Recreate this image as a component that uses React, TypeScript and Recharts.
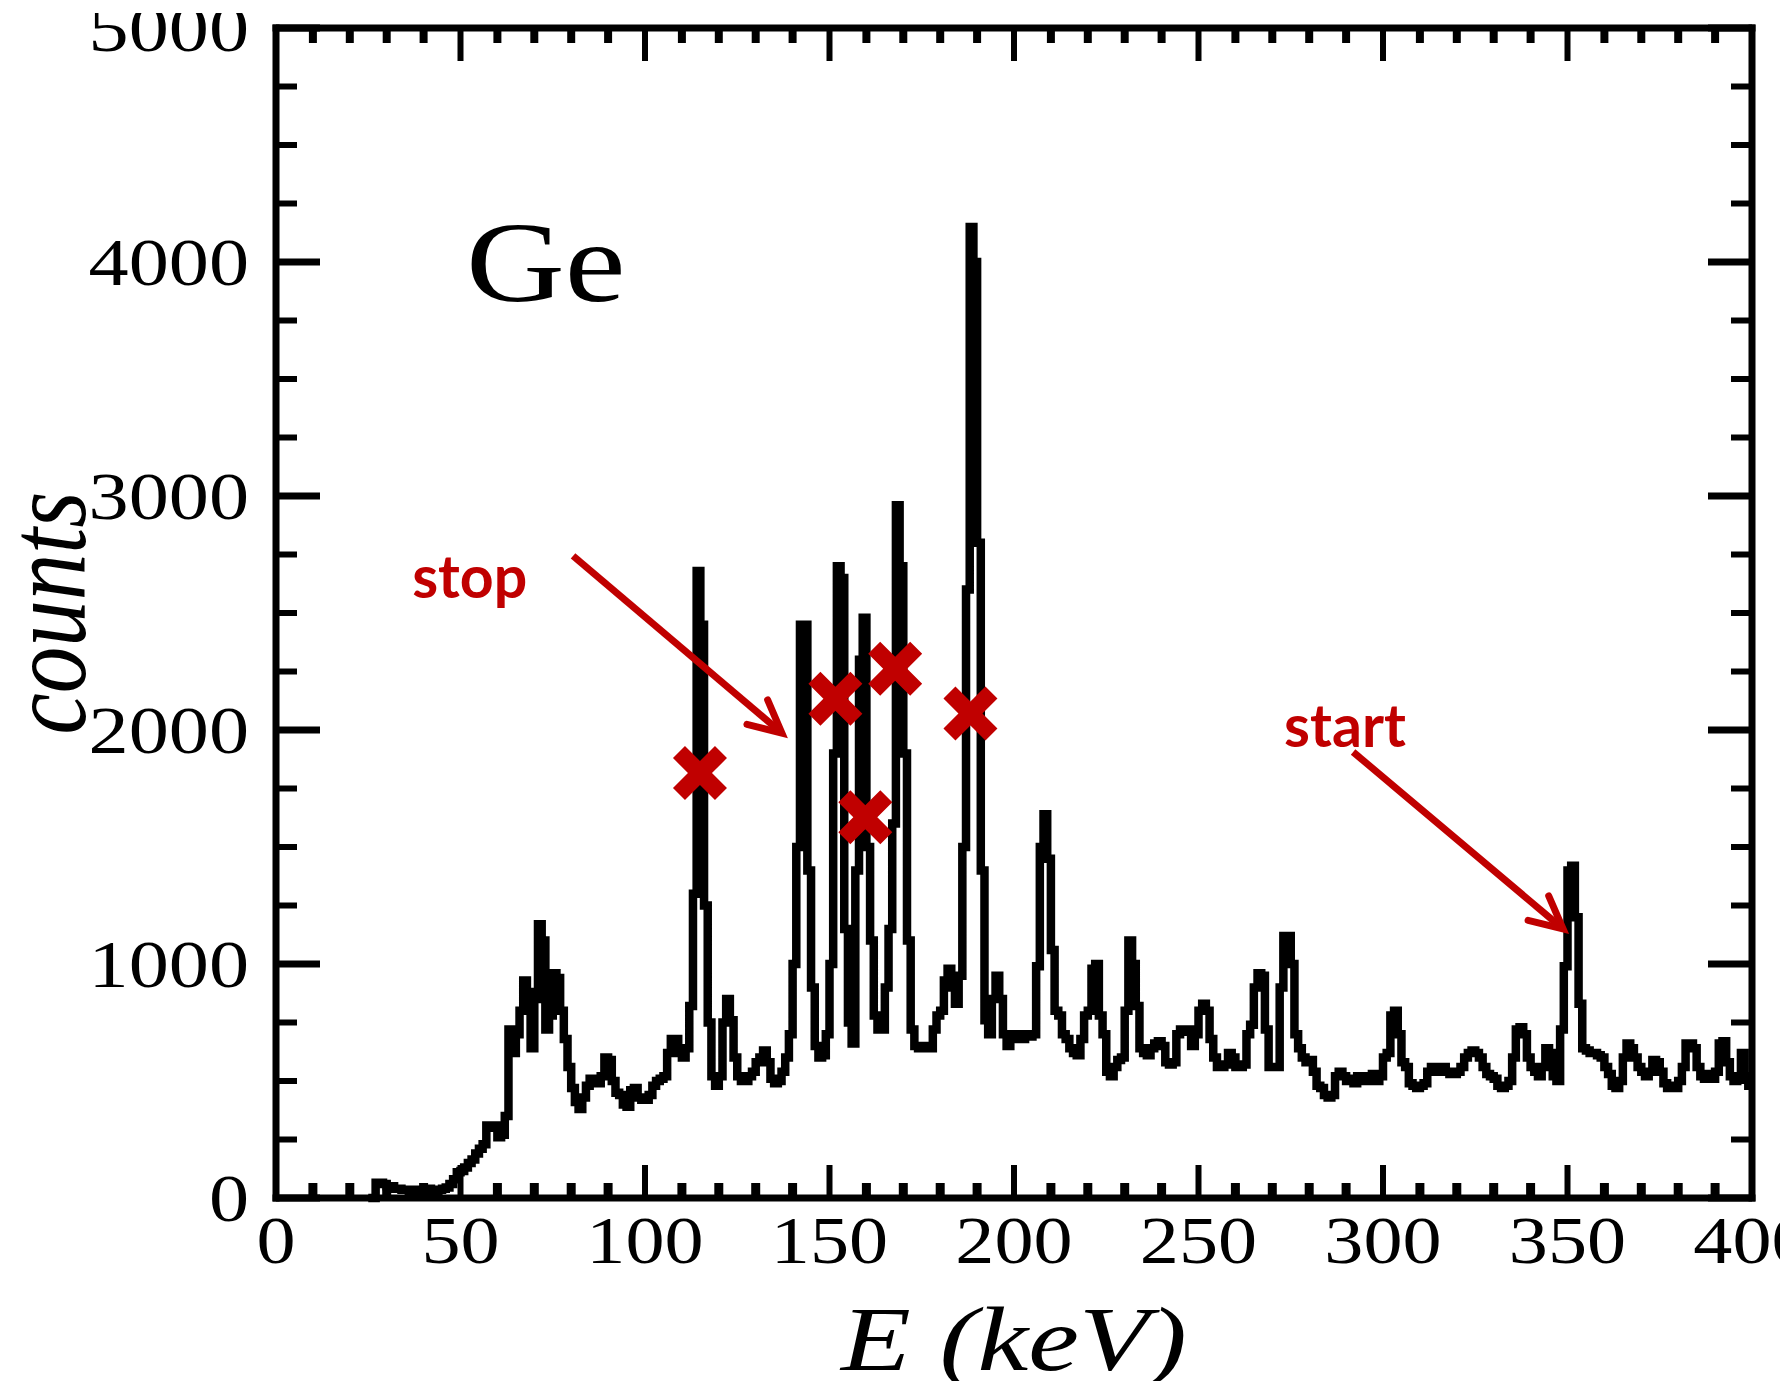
import React from 'react';
import {
  ComposedChart,
  Line,
  Scatter,
  XAxis,
  YAxis,
  ReferenceLine,
  ReferenceDot,
} from 'recharts';

// Ge gamma spectrum, 1 keV bins, counts
const BIN_KEV = 1;

const counts25to49 = [
  0, 0, 65, 65, 60, 50, 50, 40, 40, 35, 35, 30, 30, 35, 30, 35, 40, 30, 30, 35, 40, 45, 60, 80, 110,
];
const counts50to99 = [
  115, 130, 150, 165, 190, 210, 230, 310, 300, 310,
  260, 270, 350, 720, 620, 700, 800, 930, 880, 640,
  850, 1170, 1100, 720, 780, 960, 940, 800, 680, 560,
  470, 410, 380, 430, 480, 510, 500, 490, 520, 600,
  590, 500, 450, 440, 400, 390, 460, 470, 430, 420,
];
const counts100to149 = [
  420, 440, 480, 500, 510, 520, 620, 680, 680, 620,
  600, 640, 820, 1300, 2680, 2450, 1250, 750, 520, 480,
  520, 750, 850, 760, 600, 520, 500, 500, 520, 540,
  580, 600, 630, 580, 510, 490, 500, 540, 600, 700,
  1000, 1500, 2450, 2450, 1400, 900, 650, 600, 610, 700,
];
const counts150to199 = [
  1000, 1900, 2700, 2650, 1150, 750, 660, 1400, 2300, 2480,
  1500, 1100, 780, 720, 720, 900, 1150, 1600, 2960, 2700,
  1900, 1100, 720, 650, 640, 640, 650, 640, 720, 780,
  800, 930, 980, 900, 830, 950, 1500, 2600, 4150, 4000,
  2800, 1400, 760, 700, 850, 950, 850, 700, 650, 680,
];
const counts200to249 = [
  700, 690, 680, 700, 690, 700, 990, 1500, 1640, 1450,
  1060, 800, 780, 700, 680, 640, 620, 610, 680, 780,
  800, 980, 1000, 780, 700, 540, 520, 560, 590, 600,
  800, 1100, 1000, 820, 640, 620, 610, 640, 660, 670,
  650, 580, 570, 580, 700, 720, 710, 720, 650, 700,
];
const counts250to299 = [
  800, 830, 800, 680, 600, 560, 560, 570, 620, 600,
  560, 560, 570, 700, 740, 900, 960, 950, 720, 560,
  560, 560, 900, 1120, 1120, 1000, 700, 640, 600, 580,
  590, 540, 480, 470, 440, 430, 440, 520, 540, 520,
  500, 510, 490, 520, 520, 500, 510, 530, 500, 520,
];
const counts300to349 = [
  600, 620, 780, 800, 700, 580, 560, 490, 480, 470,
  480, 490, 540, 560, 540, 550, 560, 540, 530, 530,
  540, 560, 600, 620, 630, 620, 600, 560, 530, 520,
  510, 480, 470, 480, 500, 600, 720, 730, 700, 600,
  560, 540, 520, 560, 640, 620, 520, 500, 720, 990,
];
const counts350to399 = [
  1400, 1420, 1200, 830, 640, 630, 620, 620, 610, 600,
  560, 530, 480, 470, 500, 600, 660, 640, 600, 560,
  540, 520, 540, 590, 580, 540, 490, 470, 480, 470,
  500, 560, 660, 660, 640, 560, 520, 510, 530, 510,
  540, 660, 670, 580, 520, 500, 510, 620, 520, 480,
];

const segments = [
  { start: 25, counts: counts25to49 },
  { start: 50, counts: counts50to99 },
  { start: 100, counts: counts100to149 },
  { start: 150, counts: counts150to199 },
  { start: 200, counts: counts200to249 },
  { start: 250, counts: counts250to299 },
  { start: 300, counts: counts300to349 },
  { start: 350, counts: counts350to399 },
];

const spectrum = segments.flatMap((seg) =>
  seg.counts.map((c, i) => ({ E: seg.start + i * BIN_KEV, counts: c }))
);
// close the last bin
spectrum.push({ E: 400, counts: counts350to399[counts350to399.length - 1] });

// red crosses on the cascade peaks
const crossE = [114.9, 151.6, 159.7, 167.8, 188.2];
const crossCounts = [1816, 2134, 1627, 2262, 2071];
const crosses = crossE.map((E, i) => ({ E, counts: crossCounts[i] }));

// axis ticks
const xTicks = [
  0, 10, 20, 30, 40, 50, 60, 70, 80, 90, 100, 110, 120, 130, 140, 150, 160, 170, 180, 190, 200,
  210, 220, 230, 240, 250, 260, 270, 280, 290, 300, 310, 320, 330, 340, 350, 360, 370, 380, 390, 400,
];
const yTicks = [
  0, 250, 500, 750, 1000, 1250, 1500, 1750, 2000, 2250, 2500, 2750, 3000, 3250, 3500, 3750, 4000,
  4250, 4500, 4750, 5000,
];

// annotation anchors (data units)
const stopArrow = [{ x: 80.5, y: 2744 }, { x: 137.1, y: 1987 }];
const startArrow = [{ x: 291.9, y: 1906 }, { x: 348.8, y: 1150 }];
const geLabel = { x: 51.5, y: 3833 };
const stopLabel = { x: 36.9, y: 2564 };
const startLabel = { x: 273.2, y: 1927 };

const SERIF = '"Liberation Serif", "DejaVu Serif", serif';
const RED = '#C00000';
const AXIS_LINE = { stroke: '#000', strokeWidth: 7, strokeLinecap: 'square' as const };

const BottomTick = (props: any) => {
  const { x, y, payload } = props;
  const v = payload.value;
  const major = v % 50 === 0;
  return (
    <g>
      <line x1={x} x2={x} y1={y} y2={y - (major ? 33 : 15)} stroke="#000" strokeWidth={major ? 6 : 9} />
      {major && (
        <text
          transform={`translate(${x},${y + 65}) scale(1.15,1)`}
          textAnchor="middle"
          fontFamily={SERIF}
          fontSize={68}
          fill="#000"
        >
          {v}
        </text>
      )}
    </g>
  );
};

const TopTick = (props: any) => {
  const { x, y, payload } = props;
  const major = payload.value % 50 === 0;
  return <line x1={x} x2={x} y1={y} y2={y + (major ? 33 : 15)} stroke="#000" strokeWidth={major ? 6 : 8} />;
};

const LeftTick = (props: any) => {
  const { x, y, payload } = props;
  const v = payload.value;
  const major = v % 1000 === 0;
  // the top label is cropped in the original figure
  const cropped = v === 5000;
  return (
    <g>
      {cropped && (
        <defs>
          <clipPath id="top-label-crop">
            <rect x={0} y={13} width={x} height={80} />
          </clipPath>
        </defs>
      )}
      <line x1={x} x2={x + (major ? 44 : 21)} y1={y} y2={y} stroke="#000" strokeWidth={major ? 7 : 6} />
      {major && (
        <g clipPath={cropped ? 'url(#top-label-crop)' : undefined}>
          <text
            transform={`translate(${x - 27},${y + 23}) scale(1.18,1)`}
            textAnchor="end"
            fontFamily={SERIF}
            fontSize={68}
            fill="#000"
          >
            {v}
          </text>
        </g>
      )}
    </g>
  );
};

const RightTick = (props: any) => {
  const { x, y, payload } = props;
  const major = payload.value % 1000 === 0;
  return <line x1={x} x2={x - (major ? 44 : 21)} y1={y} y2={y} stroke="#000" strokeWidth={major ? 7 : 6} />;
};

const renderXLabel = (props: any) => {
  const vb = props.viewBox;
  return (
    <text
      transform={`translate(${vb.x + vb.width / 2},${vb.y + 172}) scale(1.27,1)`}
      textAnchor="middle"
      fontFamily={SERIF}
      fontStyle="italic"
      fontSize={90}
      fill="#000"
    >
      E (keV)
    </text>
  );
};

const renderYLabel = (props: any) => {
  const vb = props.viewBox;
  return (
    <text
      transform={`translate(${vb.x + 85},${vb.y + vb.height / 2}) scale(1.2,1) rotate(-90)`}
      textAnchor="middle"
      fontFamily={SERIF}
      fontStyle="italic"
      fontSize={93}
      fill="#000"
    >
      counts
    </text>
  );
};

const CrossShape = (props: any) => {
  const { cx, cy } = props;
  const s = 27;
  const a = 12;
  const pts = [
    [-s, -s + a], [-s + a, -s], [0, -a], [s - a, -s], [s, -s + a], [a, 0],
    [s, s - a], [s - a, s], [0, a], [-s + a, s], [-s, s - a], [-a, 0],
  ];
  return <polygon points={pts.map(([dx, dy]) => `${cx + dx},${cy + dy}`).join(' ')} fill={RED} />;
};

const ArrowShape = (props: any) => {
  const { x1, y1, x2, y2 } = props;
  const ang = Math.atan2(y2 - y1, x2 - x1);
  const len = 36;
  const spread = 0.46;
  const ax = x2 - len * Math.cos(ang - spread);
  const ay = y2 - len * Math.sin(ang - spread);
  const bx = x2 - len * Math.cos(ang + spread);
  const by = y2 - len * Math.sin(ang + spread);
  return (
    <g>
      <line x1={x1} y1={y1} x2={x2 - 3 * Math.cos(ang)} y2={y2 - 3 * Math.sin(ang)} stroke={RED} strokeWidth={7} />
      <polyline
        points={`${ax},${ay} ${x2},${y2} ${bx},${by}`}
        fill="none"
        stroke={RED}
        strokeWidth={7}
        strokeLinecap="round"
        strokeLinejoin="miter"
      />
    </g>
  );
};

const textLabel = (text: string, opts: any) => (props: any) => {
  const vb = props.viewBox;
  const x = vb.x + vb.width / 2;
  const y = vb.y + vb.height / 2;
  return (
    <text
      transform={`translate(${x},${y}) scale(${opts.stretch},1)`}
      textAnchor="start"
      fontFamily={opts.font}
      fontWeight={opts.weight}
      fontSize={opts.size}
      fill={opts.color}
    >
      {text}
    </text>
  );
};

export default function App() {
  return (
    <div style={{ position: 'absolute', left: 0, top: 0, width: 1780, height: 1381, background: '#fff' }}>
      <ComposedChart
        width={1780}
        height={1381}
        data={spectrum}
        margin={{ top: 27, right: 27, bottom: 0, left: 0 }}
      >
        <XAxis
          xAxisId="bottom"
          dataKey="E"
          type="number"
          domain={[0, 400]}
          ticks={xTicks}
          interval={0}
          height={183}
          tickSize={0}
          tickMargin={0}
          tickLine={false}
          axisLine={AXIS_LINE}
          tick={BottomTick}
          label={renderXLabel}
        />
        <XAxis
          xAxisId="top"
          orientation="top"
          dataKey="E"
          type="number"
          domain={[0, 400]}
          allowDataOverflow
          ticks={xTicks}
          interval={0}
          height={1}
          tickSize={0}
          tickMargin={0}
          tickLine={false}
          axisLine={AXIS_LINE}
          tick={TopTick}
        />
        <YAxis
          yAxisId="left"
          type="number"
          domain={[0, 5000]}
          ticks={yTicks}
          interval={0}
          width={276}
          tickSize={0}
          tickMargin={0}
          tickLine={false}
          axisLine={AXIS_LINE}
          tick={LeftTick}
          label={renderYLabel}
        />
        <YAxis
          yAxisId="right"
          orientation="right"
          type="number"
          domain={[0, 5000]}
          allowDataOverflow
          ticks={yTicks}
          interval={0}
          width={1}
          tickSize={0}
          tickMargin={0}
          tickLine={false}
          axisLine={AXIS_LINE}
          tick={RightTick}
        />
        <Line
          xAxisId="bottom"
          yAxisId="left"
          type="stepAfter"
          dataKey="counts"
          stroke="#000"
          strokeWidth={8.5}
          dot={false}
          activeDot={false}
          isAnimationActive={false}
        />
        <Scatter
          xAxisId="bottom"
          yAxisId="left"
          data={crosses}
          dataKey="counts"
          shape={CrossShape}
          isAnimationActive={false}
        />
        <ReferenceLine xAxisId="bottom" yAxisId="left" segment={stopArrow} stroke={RED} shape={ArrowShape} />
        <ReferenceLine xAxisId="bottom" yAxisId="left" segment={startArrow} stroke={RED} shape={ArrowShape} />
        <ReferenceDot
          xAxisId="bottom"
          yAxisId="left"
          x={geLabel.x}
          y={geLabel.y}
          r={0}
          fill="none"
          stroke="none"
          label={textLabel('Ge', { font: SERIF, weight: 400, size: 115, stretch: 1.19, color: '#000' })}
        />
        <ReferenceDot
          xAxisId="bottom"
          yAxisId="left"
          x={stopLabel.x}
          y={stopLabel.y}
          r={0}
          fill="none"
          stroke="none"
          label={textLabel('stop', { font: 'Lato, "Open Sans", sans-serif', weight: 700, size: 59, stretch: 1, color: RED })}
        />
        <ReferenceDot
          xAxisId="bottom"
          yAxisId="left"
          x={startLabel.x}
          y={startLabel.y}
          r={0}
          fill="none"
          stroke="none"
          label={textLabel('start', { font: 'Lato, "Open Sans", sans-serif', weight: 700, size: 59, stretch: 1, color: RED })}
        />
      </ComposedChart>
    </div>
  );
}
